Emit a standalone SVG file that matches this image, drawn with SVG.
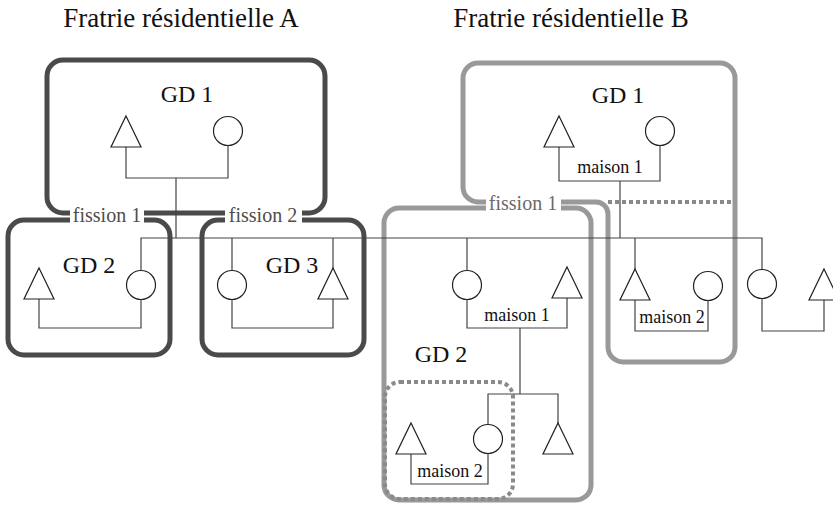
<svg xmlns="http://www.w3.org/2000/svg" width="833" height="505" viewBox="0 0 833 505">
<style>
.boxA{fill:none;stroke:#4a4a4a;stroke-width:5}
.boxB{fill:none;stroke:#999;stroke-width:5}
.dot{fill:none;stroke:#8a8a8a;stroke-width:4;stroke-dasharray:4 3}
.ln{fill:none;stroke:#444;stroke-width:1.2}
.sym{fill:#fff;stroke:#222;stroke-width:1.2}
.t{font-family:"Liberation Serif","Times New Roman",serif;fill:#111;text-anchor:middle}
.title{font-size:27px}
.gd{font-size:24px}
.fis{font-size:20px}
.mai{font-size:18px}
.bg{fill:#fff}
</style>
<defs>
<path id="tri" d="M0,0 L15,31 L-15,31 Z"/>
</defs>
<g id="titles">
<text class="t title" x="181" y="27">Fratrie résidentielle A</text>
<text class="t title" x="571" y="27">Fratrie résidentielle B</text>
</g>
<g id="boxes">
<rect id="A-GD1-box" class="boxA" x="47" y="60" width="278" height="153" rx="16"/>
<rect id="A-GD2-box" class="boxA" x="8" y="220" width="162" height="135" rx="16"/>
<rect id="A-GD3-box" class="boxA" x="202" y="220" width="162" height="135" rx="16"/>
<path id="B-GD1-box" class="boxB" d="M478,63 H720 A15,15 0 0 1 735,78 V347 A15,15 0 0 1 720,362 H623 A15,15 0 0 1 608,347 V214 A12,12 0 0 0 596,202 H478 A15,15 0 0 1 463,187 V78 A15,15 0 0 1 478,63 Z"/>
<line class="dot" x1="608" y1="202" x2="733" y2="202"/>
<rect id="B-GD2-box" class="boxB" x="384" y="208" width="207" height="292" rx="15"/>
<rect id="B-maison2-box" class="dot" x="385" y="382" width="128" height="117" rx="15"/>
</g>
<g id="connectors">
<path class="ln" d="M126,147 V178 H228 V145.5"/>
<path class="ln" d="M176,178 V238"/>
<path class="ln" d="M141,270.5 V238 H762 V269.5"/>
<path class="ln" d="M39,298 V328 H141 V299.5"/>
<path class="ln" d="M232,238 V270.5"/>
<path class="ln" d="M333,238 V269"/>
<path class="ln" d="M232,299.5 V328 H333 V298"/>
<path class="ln" d="M559,147 V181 H660 V145.5"/>
<path class="ln" d="M620,181 V238"/>
<path class="ln" d="M467,238 V270.5"/>
<path class="ln" d="M467,299.5 V328 H567 V298"/>
<path class="ln" d="M520,328 V394"/>
<path class="ln" d="M488,424.5 V394 H558 V424"/>
<path class="ln" d="M411,453 V484 H488 V453.5"/>
<path class="ln" d="M635,238 V270"/>
<path class="ln" d="M635,300 V331 H708 V300.5"/>
<path class="ln" d="M762,298.5 V331 H824 V300"/>
</g>
<g id="A-GD1">
<use href="#tri" class="sym" x="126" y="116"/>
<circle class="sym" cx="228" cy="131" r="14.5"/>
<text class="t gd" x="187" y="102">GD 1</text>
</g>
<g id="A-GD2">
<use href="#tri" class="sym" x="39" y="268"/>
<circle class="sym" cx="141" cy="285" r="14.5"/>
<text class="t gd" x="89" y="273">GD 2</text>
</g>
<g id="A-GD3">
<circle class="sym" cx="232" cy="285" r="14.5"/>
<use href="#tri" class="sym" x="333" y="268"/>
<text class="t gd" x="292" y="273">GD 3</text>
</g>
<g id="A-fission">
<rect class="bg" x="70" y="204" width="74" height="24"/>
<text class="t fis" x="107" y="222" style="fill:#4d4d4d">fission 1</text>
<rect class="bg" x="225" y="204" width="77" height="24"/>
<text class="t fis" x="263" y="222" style="fill:#4d4d4d">fission 2</text>
</g>
<g id="B-GD1">
<use href="#tri" class="sym" x="559" y="116"/>
<circle class="sym" cx="660" cy="131" r="14.5"/>
<text class="t gd" x="618" y="103">GD 1</text>
<text class="t mai" x="610" y="173">maison 1</text>
</g>
<g id="B-GD2">
<circle class="sym" cx="467" cy="285" r="14.5"/>
<use href="#tri" class="sym" x="567" y="267"/>
<text class="t mai" x="517" y="321">maison 1</text>
<text class="t gd" x="441" y="362">GD 2</text>
<use href="#tri" class="sym" x="411" y="423"/>
<circle class="sym" cx="488" cy="439" r="14.5"/>
<use href="#tri" class="sym" x="558" y="423"/>
<text class="t mai" x="450" y="477">maison 2</text>
</g>
<g id="B-maison2">
<use href="#tri" class="sym" x="635" y="269"/>
<circle class="sym" cx="708" cy="286" r="14.5"/>
<text class="t mai" x="672" y="323">maison 2</text>
</g>
<g id="B-other">
<circle class="sym" cx="762" cy="284" r="14.5"/>
<use href="#tri" class="sym" x="824" y="269"/>
</g>
<g id="B-fission">
<rect class="bg" x="486" y="194" width="75" height="22"/>
<text class="t fis" x="523" y="210" style="fill:#6a6a6a">fission 1</text>
</g>
</svg>
